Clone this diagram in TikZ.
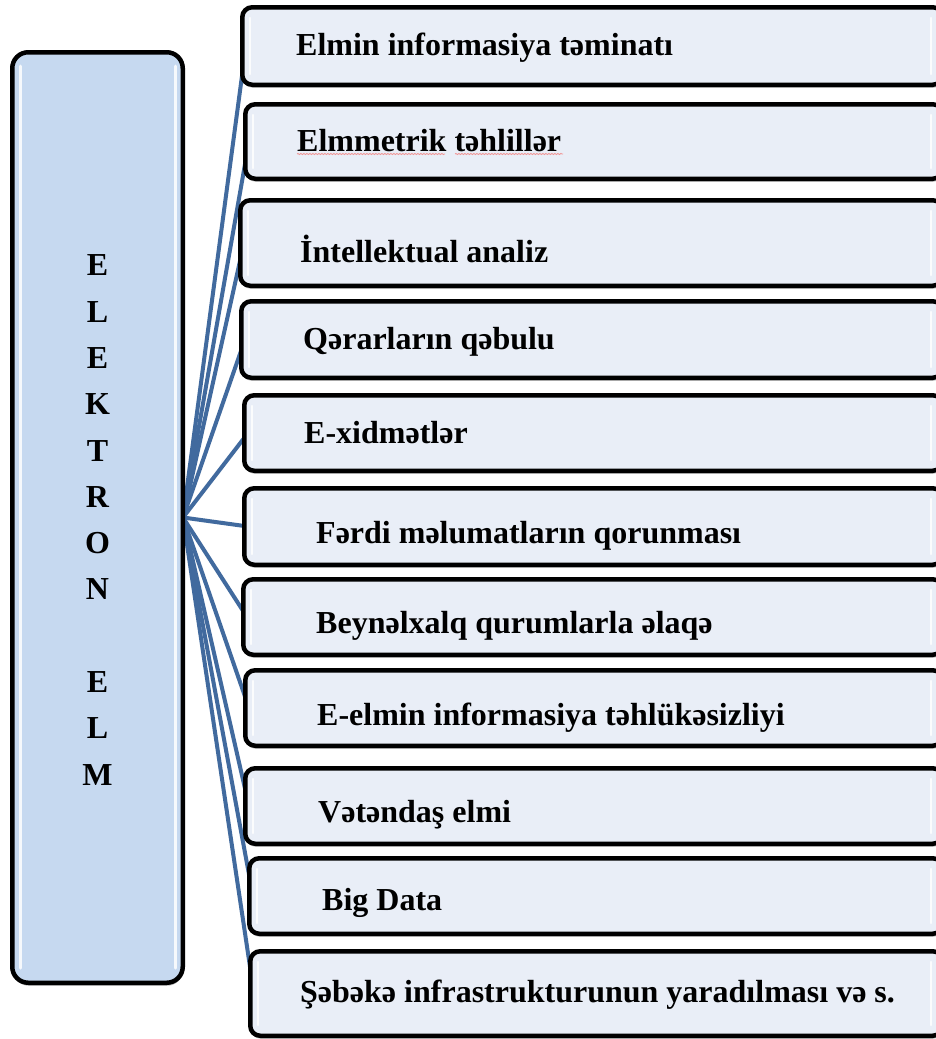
\documentclass[tikz,border=0pt]{standalone}
\usepackage{fontspec}
\setmainfont{Liberation Serif}
\usetikzlibrary{shadows,calc,decorations.pathmorphing}
\definecolor{linkblue}{RGB}{65,106,158}
\definecolor{boxfill}{RGB}{233,238,247}
\definecolor{rootfill}{RGB}{198,217,240}
\definecolor{spellred}{RGB}{240,150,150}
\pgfdeclarelayer{bg}
\pgfsetlayers{bg,main}
\begin{document}
\begin{tikzpicture}[x=1pt,y=-1pt,
  itembox/.style={draw=black, line width=4.5pt, fill=boxfill, rounded corners=10pt,
    anchor=north west, inner sep=0pt,
    drop shadow={shadow xshift=0.5pt, shadow yshift=-3pt, opacity=0.25, fill=black}},
  rootbox/.style={draw=black, line width=4.5pt, fill=rootfill, rounded corners=16pt,
    anchor=north west, inner sep=0pt,
    drop shadow={shadow xshift=0.5pt, shadow yshift=-3pt, opacity=0.25, fill=black}},
  itemtext/.style={anchor=base west, inner sep=0pt, font=\bfseries\fontsize{32}{38}\selectfont},
  roottext/.style={align=center, inner sep=0pt, font=\bfseries\fontsize{32}{46.3}\selectfont},
  link/.style={draw=linkblue, line width=4pt},
  gloss/.style={draw=white, line width=2.5pt, line cap=round, opacity=0.85},
  spell/.style={draw=spellred, line width=0.8pt, decorate,
    decoration={snake, amplitude=0.6pt, segment length=3pt}}
]
\useasboundingbox (0,0) rectangle (936,1039);
\clip (0,0) rectangle (936,1039);

% root box
\node[rootbox, minimum width=170.5pt, minimum height=930.5pt] (root) at (10,50) {};
\draw[gloss, line width=3pt] (20,66) -- (20,968);
\draw[gloss, line width=3pt] (175,66) -- (175,968);
\node[roottext] (rtext) at (97.5,520) {E\\L\\E\\K\\T\\R\\O\\N\\[46.3pt]E\\L\\M};
\coordinate (hub) at ($(root.east)+(-2,0)$);

% item boxes (left, top, bottom) ; right edge path at about 943
\node[itembox, minimum width=700.5pt, minimum height=77.5pt] (b1)  at (240,5)   {};
\node[itembox, minimum width=697.5pt, minimum height=74.5pt] (b2)  at (243,102) {};
\node[itembox, minimum width=702.5pt, minimum height=85.5pt] (b3)  at (238,198) {};
\node[itembox, minimum width=701.5pt, minimum height=76.5pt] (b4)  at (239,299) {};
\node[itembox, minimum width=698.5pt, minimum height=75.5pt] (b5)  at (242,393) {};
\node[itembox, minimum width=698.5pt, minimum height=76.5pt] (b6)  at (242,486) {};
\node[itembox, minimum width=699.5pt, minimum height=75.5pt] (b7)  at (241,577) {};
\node[itembox, minimum width=697.5pt, minimum height=75.5pt] (b8)  at (243,668) {};
\node[itembox, minimum width=697.5pt, minimum height=75.5pt] (b9)  at (243,766) {};
\node[itembox, minimum width=693.5pt, minimum height=75.5pt] (b10) at (247,856) {};
\node[itembox, minimum width=692.5pt, minimum height=84.5pt] (b11) at (248,949) {};

% gloss highlights on item boxes
\foreach \b in {b1,b2,b3,b4,b5,b6,b7,b8,b9,b10,b11}{
  \draw[gloss] ($(\b.north west)+(10,13)$) -- ($(\b.south west)+(10,-13)$);
  \path (931,0 |- \b.north) ++(0,13) coordinate (g1)
        (931,0 |- \b.south) ++(0,-13) coordinate (g2);
  \draw[gloss] (g1) -- (g2);
}

% background and connectors
\begin{pgfonlayer}{bg}
\fill[white] (0,0) rectangle (936,1039);
\foreach \b in {b1,b2,b3,b4,b5,b6,b7,b8,b9,b10,b11}{
  \draw[link] (hub) -- ($(\b.west)+(6,0)$);
}
\end{pgfonlayer}

% texts
\node[itemtext] (t1)  at (296,55)   {Elmin informasiya təminatı};
\node[itemtext] (t2)  at (297,151)  {Elmmetrik təhlillər};
\node[itemtext] (t3)  at (300,262)  {İntellektual analiz};
\node[itemtext] (t4)  at (303,349)  {Qərarların qəbulu};
\node[itemtext] (t5)  at (304,443)  {E-xidmətlər};
\node[itemtext] (t6)  at (316,543)  {Fərdi məlumatların qorunması};
\node[itemtext] (t7)  at (316,633)  {Beynəlxalq qurumlarla əlaqə};
\node[itemtext] (t8)  at (317,725)  {E-elmin informasiya təhlükəsizliyi};
\node[itemtext] (t9)  at (318,822)  {Vətəndaş elmi};
\node[itemtext] (t10) at (322,910)  {Big Data};
\node[itemtext] (t11) at (300,1002) {Şəbəkə infrastrukturunun yaradılması və s.};

% spell-check underlines
\draw[spell] (297,154) -- (445,154);
\draw[spell] (455,154) -- (563,154);
\end{tikzpicture}
\end{document}
